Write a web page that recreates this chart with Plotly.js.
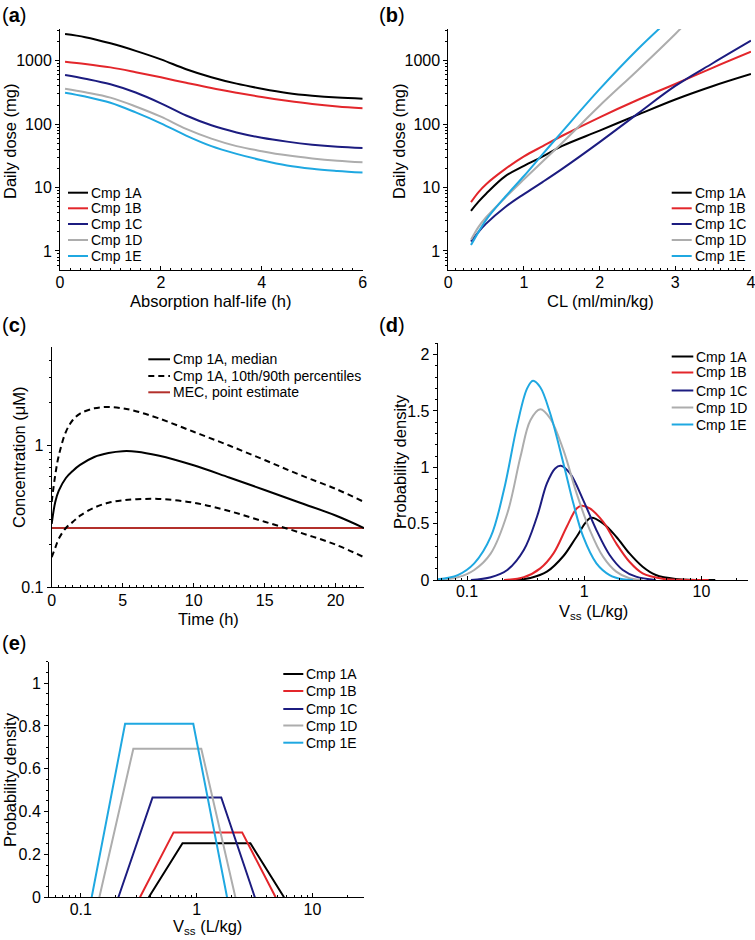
<!DOCTYPE html>
<html>
<head>
<meta charset="utf-8">
<script src="https://cdn.plot.ly/plotly-3.0.1.min.js"></script>
<style>html,body{margin:0;padding:0;background:#fff;}#chart{width:755px;height:940px;}</style>
</head>
<body>
<div id="chart"></div>
<script>
// ---------------- DATA ----------------
const seriesNames = ['Cmp 1A', 'Cmp 1B', 'Cmp 1C', 'Cmp 1D', 'Cmp 1E'];

// (a) daily dose vs absorption half-life
const halfLifeA = [0.1, 0.5, 1, 1.5, 2, 2.5, 3, 3.5, 4, 4.5, 5, 5.5, 6];
const doseA_1A = [2630, 2350, 1880, 1430, 1050, 735, 550, 435, 362, 310, 280, 262, 252];
const doseA_1B = [964, 890, 785, 660, 547, 448, 370, 313, 268, 234, 208, 190, 178];
const doseA_1C = [595, 520, 425, 315, 213, 137, 96, 74, 61, 53, 47.5, 44, 42];
const doseA_1D = [362, 318, 262, 190, 131, 84, 59, 45, 37.5, 32.2, 28.8, 26.5, 25];
const doseA_1E = [313, 272, 217, 153, 103, 66, 45, 34, 27, 22.3, 19.8, 18.3, 17.2];

// (b) daily dose vs CL
const clB = [0.3, 0.4, 0.5, 0.75, 1, 1.25, 1.5, 2, 2.5, 3, 3.5, 4];
const doseB_1A = [4.3, 6.0, 8.0, 15, 22, 31, 45, 79, 140, 245, 400, 617];
const doseB_1B = [5.9, 8.5, 11.3, 19.5, 31, 45, 65, 128, 240, 430, 780, 1386];
const doseB_1C = [1.41, 2.0, 2.7, 4.9, 7.9, 12.3, 19.5, 52, 145, 400, 920, 2066];
const clB_1D = [0.3, 0.4, 0.5, 0.75, 1, 1.25, 1.5, 2, 2.5, 3, 3.1];
const doseB_1D = [1.5, 2.4, 3.4, 6.9, 13.5, 26, 50, 195, 703, 2640, 3500];
const clB_1E = [0.3, 0.4, 0.5, 0.75, 1, 1.25, 1.5, 2, 2.5, 2.8];
const doseB_1E = [1.24, 2.0, 3.1, 7.1, 15.2, 34, 75, 356, 1500, 3300];

// (c) concentration-time
const timeC = [0, 0.25, 0.5, 1, 1.5, 2, 3, 4, 5, 6, 7.5, 10, 12.5, 15, 17.5, 20, 22];
const concMedian = [0.28, 0.40, 0.48, 0.59, 0.665, 0.73, 0.83, 0.885, 0.912, 0.905, 0.85, 0.725, 0.595, 0.486, 0.395, 0.321, 0.262];
const concP90 = [0.40, 0.62, 0.85, 1.25, 1.52, 1.68, 1.83, 1.87, 1.83, 1.74, 1.56, 1.25, 1.0, 0.79, 0.62, 0.495, 0.40];
const concP10 = [0.163, 0.19, 0.22, 0.262, 0.29, 0.32, 0.365, 0.395, 0.41, 0.418, 0.42, 0.395, 0.345, 0.29, 0.243, 0.2, 0.163];
const mecTime = [0, 22];
const mecConc = [0.262, 0.262];
const legendC = ['Cmp 1A, median', 'Cmp 1A, 10th/90th percentiles', 'MEC, point estimate'];

// (d) Vss probability density (smooth)
const vssD_1A = [0.2512, 0.3475, 0.4805, 0.665, 0.8615, 1.138, 1.447, 1.876, 2.432, 3.152, 4.084, 6.03, 13.13];
const densD_1A = [0, 0.018, 0.074, 0.213, 0.384, 0.552, 0.502, 0.384, 0.236, 0.118, 0.044, 0.009, 0];
const vssD_1B = [0.2067, 0.3052, 0.4218, 0.547, 0.7096, 0.8615, 0.9494, 1.117, 1.447, 1.876, 2.432, 3.152, 4.652, 7.81, 11.53];
const densD_1B = [0, 0.024, 0.103, 0.236, 0.473, 0.635, 0.659, 0.635, 0.517, 0.325, 0.162, 0.059, 0.012, 0.001, 0];
const vssD_1C = [0.108, 0.1596, 0.2206, 0.3052, 0.3954, 0.4805, 0.565, 0.631, 0.757, 0.9806, 1.271, 1.648, 2.136, 2.768, 4.084];
const densD_1C = [0, 0.024, 0.089, 0.266, 0.561, 0.857, 0.99, 1.013, 0.945, 0.709, 0.443, 0.222, 0.089, 0.03, 0];
const vssD_1D = [0.0565, 0.0834, 0.1153, 0.1596, 0.2206, 0.2858, 0.3475, 0.4218, 0.5128, 0.665, 0.8615, 1.117, 1.447, 1.876, 2.432, 3.152];
const densD_1D = [0, 0.024, 0.089, 0.236, 0.59, 1.093, 1.418, 1.515, 1.433, 1.152, 0.768, 0.443, 0.207, 0.074, 0.015, 0];
const vssD_1E = [0.0565, 0.0834, 0.1153, 0.1596, 0.2067, 0.268, 0.326, 0.3656, 0.4218, 0.5128, 0.665, 0.8075, 0.9806, 1.271, 1.648, 2.136, 2.6];
const densD_1E = [0.006, 0.044, 0.148, 0.384, 0.80, 1.374, 1.70, 1.767, 1.71, 1.477, 1.034, 0.68, 0.384, 0.148, 0.044, 0.006, 0];

// (e) Vss probability density (trapezoid)
const vssE_1A = [0.386, 0.755, 2.91, 5.68];
const densE_1A = [0, 0.252, 0.252, 0];
const vssE_1B = [0.324, 0.632, 2.47, 4.81];
const densE_1B = [0, 0.303, 0.303, 0];
const vssE_1C = [0.211, 0.416, 1.63, 3.18];
const densE_1C = [0, 0.466, 0.466, 0];
const vssE_1D = [0.1445, 0.284, 1.096, 2.16];
const densE_1D = [0, 0.694, 0.694, 0];
const vssE_1E = [0.124, 0.241, 0.935, 1.83];
const densE_1E = [0, 0.81, 0.81, 0];

// tick labels
const ticksDose = [1, 10, 100, 1000];
const ticksDoseText = ['1', '10', '100', '1000'];
const ticksHalfLife = [0, 2, 4, 6];
const ticksCL = [0, 1, 2, 3, 4];
const ticksTime = [0, 5, 10, 15, 20];
const ticksConc = [0.1, 1];
const ticksConcText = ['0.1', '1'];
const ticksVss = [0.1, 1, 10];
const ticksVssText = ['0.1', '1', '10'];
const ticksDensD = [0, 0.5, 1, 1.5, 2];
const ticksDensDText = ['0', '0.5', '1', '1.5', '2'];
const ticksDensE = [0, 0.2, 0.4, 0.6, 0.8, 1];
const ticksDensEText = ['0', '0.2', '0.4', '0.6', '0.8', '1'];

// axis titles
const titleHalfLife = 'Absorption half-life (h)';
const titleCL = 'CL (ml/min/kg)';
const titleDose = 'Daily dose (mg)';
const titleTime = 'Time (h)';
const titleConc = 'Concentration (μM)';
const titleVss = 'V<sub>ss</sub> (L/kg)';
const titleDens = 'Probability density';

// ---------------- STYLE ----------------
const colors = ['#000000', '#e3262b', '#1c1c80', '#adadad', '#1fa8e1'];
const mecColor = '#b3302b';
const FONT = '"Liberation Sans", Arial, Helvetica, sans-serif';
const W = 755, H = 940;
const fx = px => px / W;
const fy = py => 1 - py / H;
const TICK = 16;
const TITLE = 16.5;

function ax(o) {
  return Object.assign({
    showline: true, linecolor: '#000', linewidth: 1, mirror: false,
    showgrid: false, zeroline: false,
    ticks: 'outside', ticklen: 4, tickwidth: 1, tickcolor: '#000',
    tickfont: { size: TICK, color: '#000', family: FONT },
    ticklabeloverflow: 'allow',
    fixedrange: true
  }, o);
}
function xax(o) { return ax(Object.assign({ ticks: 'inside', ticklabelstandoff: -2 }, o)); }
const logMinorY = { dtick: 'D1', ticks: 'outside', ticklen: 2, tickcolor: '#000', showgrid: false };
const logMinorX = { dtick: 'D1', ticks: 'inside', ticklen: 2, tickcolor: '#000', showgrid: false };
const linMinorX = d => ({ dtick: d, ticks: 'inside', ticklen: 2, tickcolor: '#000', showgrid: false });
const linMinorY = d => ({ dtick: d, ticks: 'outside', ticklen: 2, tickcolor: '#000', showgrid: false });

// ---------------- TRACES ----------------
const traces = [];
function line(x, y, xa, ya, color, opts) {
  traces.push(Object.assign({
    type: 'scatter', mode: 'lines', x: x, y: y, xaxis: xa, yaxis: ya,
    line: { color: color, width: 2, shape: 'spline', smoothing: 1 },
    hoverinfo: 'skip', showlegend: false
  }, opts || {}));
}
const A = [doseA_1A, doseA_1B, doseA_1C, doseA_1D, doseA_1E];
A.forEach((y, i) => line(halfLifeA, y, 'x', 'y', colors[i]));
const Bx = [clB, clB, clB, clB_1D, clB_1E];
const By = [doseB_1A, doseB_1B, doseB_1C, doseB_1D, doseB_1E];
By.forEach((y, i) => line(Bx[i], y, 'x2', 'y2', colors[i]));
line(mecTime, mecConc, 'x3', 'y3', mecColor, { line: { color: mecColor, width: 2 } });
line(timeC, concP90, 'x3', 'y3', '#000', { line: { color: '#000', width: 2, dash: '6px,4px', shape: 'spline', smoothing: 1 } });
line(timeC, concP10, 'x3', 'y3', '#000', { line: { color: '#000', width: 2, dash: '6px,4px', shape: 'spline', smoothing: 1 } });
line(timeC, concMedian, 'x3', 'y3', '#000');
const Dx = [vssD_1A, vssD_1B, vssD_1C, vssD_1D, vssD_1E];
const Dy = [densD_1A, densD_1B, densD_1C, densD_1D, densD_1E];
Dy.forEach((y, i) => line(Dx[i], y, 'x4', 'y4', colors[i]));
const Ex = [vssE_1A, vssE_1B, vssE_1C, vssE_1D, vssE_1E];
const Ey = [densE_1A, densE_1B, densE_1C, densE_1D, densE_1E];
Ey.forEach((y, i) => line(Ex[i], y, 'x5', 'y5', colors[i], { line: { color: colors[i], width: 2 } }));

// ---------------- LEGENDS (shapes + text) ----------------
const shapes = [];
const annotations = [];
function legend(x0, x1, tx, rows, names, cols, dashes) {
  rows.forEach((ry, i) => {
    shapes.push({ type: 'line', xref: 'paper', yref: 'paper', x0: fx(x0), x1: fx(x1), y0: fy(ry), y1: fy(ry),
      line: { color: cols[i], width: 2, dash: dashes ? dashes[i] : 'solid' } });
    annotations.push({ xref: 'paper', yref: 'paper', x: fx(tx), y: fy(ry), xanchor: 'left', yanchor: 'middle',
      text: names[i], showarrow: false, font: { size: 14, color: '#000', family: FONT } });
  });
}
legend(68, 88, 89, [192.7, 208.3, 224, 240, 256], seriesNames, colors);
legend(671.7, 691.7, 692.5, [192.7, 208.3, 224, 240, 256], seriesNames, colors);
legend(148.3, 170, 170.5, [359.3, 376, 392.3], legendC, ['#000', '#000', mecColor], ['solid', '6px,4px', 'solid']);
legend(671.7, 693.3, 694, [356.5, 372.5, 390.5, 407.5, 424.5], seriesNames, colors);
legend(283.3, 303.3, 304, [674, 691, 709, 725.5, 742.7], seriesNames, colors);

// panel letters
[['a', 0, 15], ['b', 377, 15], ['c', 0, 325], ['d', 377, 325], ['e', 0, 643]].forEach(p => {
  annotations.push({ xref: 'paper', yref: 'paper', x: fx(p[1]), y: fy(p[2]), xanchor: 'left', yanchor: 'middle',
    text: '(<b>' + p[0] + '</b>)', showarrow: false, font: { size: 20, color: '#000', family: FONT } });
});

// axis titles
function title(text, cx, cy, angle) {
  annotations.push({ xref: 'paper', yref: 'paper', x: fx(cx), y: fy(cy), xanchor: 'center', yanchor: 'middle',
    text: text, textangle: angle || 0, showarrow: false, font: { size: TITLE, color: '#000', family: FONT } });
}
title(titleHalfLife, 211, 300.5);
title(titleCL, 600, 300.5);
title(titleTime, 208, 619);
title(titleVss, 593, 612);
title(titleVss, 207, 927);
title(titleDose, 10, 141, -90);
title(titleDose, 399, 141, -90);
title(titleConc, 19, 457, -90);
title(titleDens, 400, 462, -90);
title(titleDens, 10, 780, -90);

// ---------------- LAYOUT ----------------
const yDomAB = [fy(270), fy(29)];
const layout = {
  width: W, height: H, margin: { l: 0, r: 0, t: 0, b: 0 },
  paper_bgcolor: '#fff', plot_bgcolor: '#fff', showlegend: false,
  font: { family: FONT, color: '#000', size: 15 },
  xaxis: xax({ domain: [fx(60), fx(362.7)], range: [0, 6], anchor: 'y', tickmode: 'array', tickvals: ticksHalfLife,
    ticktext: ticksHalfLife.map(String), minor: linMinorX(0.2) }),
  yaxis: ax({ domain: yDomAB, type: 'log', range: [-0.3, 3.5], anchor: 'x', tickmode: 'array', tickvals: ticksDose,
    ticktext: ticksDoseText, minor: logMinorY }),
  xaxis2: xax({ domain: [fx(448.3), fx(751)], range: [0, 4.0005], anchor: 'y2', tickmode: 'array', tickvals: ticksCL,
    ticktext: ticksCL.map(String), minor: linMinorX(0.1) }),
  yaxis2: ax({ domain: yDomAB, type: 'log', range: [-0.3, 3.5], anchor: 'x2', tickmode: 'array', tickvals: ticksDose,
    ticktext: ticksDoseText, minor: logMinorY }),
  xaxis3: xax({ domain: [fx(51.7), fx(364)], range: [0, 22], anchor: 'y3', tickmode: 'array', tickvals: ticksTime,
    ticktext: ticksTime.map(String), minor: linMinorX(0.5) }),
  yaxis3: ax({ domain: [fy(587.3), fy(347)], type: 'log', range: [-1, 0.695], anchor: 'x3', tickmode: 'array',
    tickvals: ticksConc, ticktext: ticksConcText, minor: logMinorY }),
  xaxis4: xax({ domain: [fx(437.7), fx(748.3)], type: 'log', range: [-1.25, 1.40], anchor: 'y4', tickmode: 'array',
    tickvals: ticksVss, ticktext: ticksVssText, minor: logMinorX, ticklabelstandoff: -3 }),
  yaxis4: ax({ domain: [fy(580), fy(343.3)], range: [0, 2.1], anchor: 'x4', tickmode: 'array', tickvals: ticksDensD,
    ticktext: ticksDensDText, minor: linMinorY(0.1) }),
  xaxis5: xax({ domain: [fx(49), fx(364)], type: 'log', range: [-1.275, 1.445], anchor: 'y5', tickmode: 'array',
    tickvals: ticksVss, ticktext: ticksVssText, minor: logMinorX, ticklabelstandoff: -3 }),
  yaxis5: ax({ domain: [fy(897.3), fy(661.7)], range: [0, 1.1], anchor: 'x5', tickmode: 'array', tickvals: ticksDensE,
    ticktext: ticksDensEText, minor: linMinorY(0.05) }),
  shapes: shapes,
  annotations: annotations
};

Plotly.newPlot('chart', traces, layout, { displayModeBar: false, staticPlot: true });
</script>
</body>
</html>
